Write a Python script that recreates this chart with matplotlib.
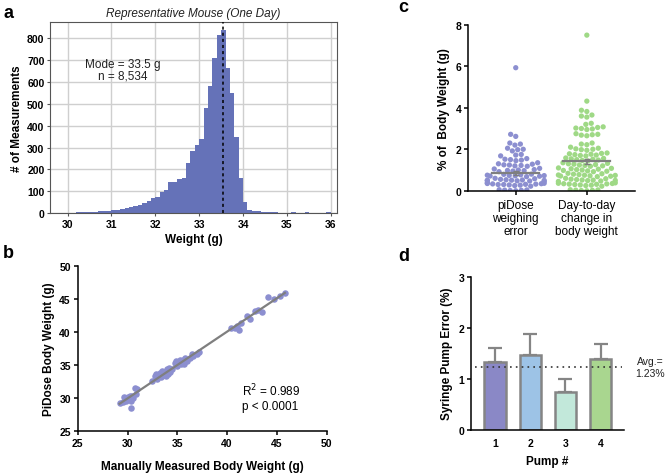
import warnings
import matplotlib
matplotlib.use("Agg")
import matplotlib.pyplot as plt
import numpy as np
import pandas as pd
import seaborn as sns

warnings.filterwarnings("ignore")
plt.rcParams["font.family"] = ["Liberation Sans", "DejaVu Sans"]

# ---- panel a: histogram of weights (bin counts, 0.1 g bins from 30 to 36)
bin_edges = np.round(np.arange(30.0, 36.01, 0.1), 2)
bin_counts = [0, 3, 4, 4, 4, 7, 7, 8, 8, 12,
              15, 16, 17, 22, 26, 35, 37, 45, 57, 68,
              72, 98, 108, 142, 144, 156, 160, 230, 283, 313,
              340, 479, 583, 708, 814, 838, 662, 552, 348, 162,
              50, 14, 10, 8, 7, 5, 6, 4, 3, 3,
              2, 7, 3, 1, 4, 0, 0, 1, 3, 7]
mode_weight = 33.55

# ---- panel b: manual vs piDose weights
manual_w = [29.2, 29.5, 29.6, 29.8, 30.0, 30.1, 30.2, 30.3, 30.4, 30.5,
            30.6, 30.8, 31.0, 30.9, 32.5, 32.8, 32.9, 33.0, 33.2, 33.3,
            33.4, 33.5, 33.6, 33.8, 33.9, 34.0, 34.1, 34.2, 34.3, 34.5,
            34.8, 34.9, 35.0, 35.2, 35.3, 35.4, 35.6, 35.8, 35.7, 36.0,
            36.3, 36.5, 36.6, 37.0, 37.2, 40.4, 40.8, 41.0, 41.2, 41.4,
            42.0, 42.3, 42.8, 43.1, 43.5, 44.1, 44.7, 45.3, 45.8]
pidose_w = [29.3, 29.4, 30.1, 29.6, 30.2, 29.9, 30.3, 28.5, 29.6, 30.3,
            30.0, 31.5, 31.3, 30.6, 32.5, 33.3, 33.6, 32.9, 33.4, 33.8,
            33.1, 34.0, 33.5, 33.9, 33.3, 34.3, 33.6, 34.5, 33.9, 34.3,
            35.3, 35.6, 34.9, 35.4, 35.8, 35.2, 35.7, 36.0, 35.1, 35.6,
            36.0, 36.7, 36.3, 36.6, 36.9, 40.5, 40.6, 40.9, 40.2, 41.4,
            42.4, 42.0, 43.1, 43.3, 43.0, 45.2, 45.0, 45.4, 45.8]

# ---- panel c: % of body weight
weigh_err = [0.0, 0.02, 0.03, 0.05, 0.04, 0.01,
             0.22, 0.25, 0.28, 0.3, 0.3, 0.32, 0.33, 0.35, 0.36, 0.27, 0.31, 0.34, 0.38,
             0.45, 0.48, 0.5, 0.5, 0.52, 0.53, 0.55, 0.47, 0.58, 0.6, 0.49, 0.51,
             0.68, 0.7, 0.72, 0.74, 0.75, 0.77, 0.79, 0.8, 0.73, 0.71,
             0.92, 0.95, 0.98, 1.0, 1.02, 1.05, 0.97, 1.08,
             1.18, 1.2, 1.22, 1.25, 1.28, 1.3, 1.24, 1.35,
             1.45, 1.48, 1.5, 1.52, 1.55,
             1.68, 1.72, 1.75, 1.92, 1.98, 2.0, 2.05,
             2.2, 2.25, 2.3, 2.62, 2.72, 5.93]
day_change = [0.0, 0.01, 0.02, 0.03, 0.04, 0.05,
              0.22, 0.25, 0.27, 0.28, 0.3, 0.31, 0.32, 0.33, 0.34, 0.35, 0.36, 0.38,
              0.45, 0.47, 0.49, 0.5, 0.51, 0.52, 0.54, 0.56, 0.58, 0.6,
              0.68, 0.7, 0.71, 0.72, 0.74, 0.75, 0.76, 0.78, 0.8, 0.82, 0.84,
              0.92, 0.94, 0.96, 0.98, 1.0, 1.02, 1.04, 1.06, 1.08, 1.1,
              1.18, 1.2, 1.22, 1.24, 1.26, 1.28, 1.3, 1.32, 1.35,
              1.44, 1.46, 1.48, 1.5, 1.52, 1.54, 1.56, 1.58,
              1.68, 1.7, 1.72, 1.74, 1.76, 1.78, 1.8, 1.82,
              1.95, 1.98, 2.0, 2.02, 2.05, 2.1,
              2.22, 2.25, 2.3,
              2.65, 2.68, 2.7, 2.72, 2.75,
              2.95, 2.98, 3.0, 3.02, 3.05, 3.08,
              3.2, 3.25, 3.55, 3.6, 3.65, 3.82, 3.88, 4.32, 7.5]
c_means = [0.85, 1.42]
c_sems = [0.09, 0.11]
c_labels = ["piDose\nweighing\nerror", "Day-to-day\nchange in\nbody weight"]

# ---- panel d: syringe pump error
pumps = ["1", "2", "3", "4"]
pump_err = [1.33, 1.46, 0.74, 1.38]
pump_sd = [0.27, 0.41, 0.25, 0.29]
pump_avg = 1.23
pump_colors = ["#8a88c6", "#9dc3e6", "#c2e8da", "#a9d68f"]

fig = plt.figure(figsize=(6.7, 4.77), dpi=100)
bold = dict(fontweight="bold")

# ================= a
ax = fig.add_axes([0.0746, 0.551, 0.4284, 0.401])
ax.bar(bin_edges[:-1], bin_counts, width=0.1, align="edge", color="#6572b8",
       linewidth=0, zorder=2)
ax.set_xlim(29.6, 36.14)
ax.set_ylim(0, 875)
ax.set_xticks(range(30, 37))
ax.set_yticks(range(0, 801, 100))
ax.grid(True, color="#cfcfcf", linewidth=1, zorder=0)
ax.set_axisbelow(True)
for s in ax.spines.values():
    s.set_color("#555555")
ax.tick_params(length=2, color="#555555", labelsize=7.5, pad=2)
for lab in ax.get_xticklabels() + ax.get_yticklabels():
    lab.set_fontweight("bold")
ax.axvline(mode_weight, color="black", linestyle=(0, (2, 2)), linewidth=1.1, zorder=3)
ax.text(31.25, 655, "Mode = 33.5 g\nn = 8,534", ha="center", va="center",
        fontsize=8.5, linespacing=1.0, color="#222222")
ax.set_title("Representative Mouse (One Day)", fontsize=8.5, style="italic", pad=4,
             color="#222222")
ax.set_xlabel("Weight (g)", fontsize=8.5, labelpad=3, **bold)
ax.set_ylabel("# of Measurements", fontsize=8.5, labelpad=3, **bold)

# ================= b
ax = fig.add_axes([0.116, 0.0943, 0.3716, 0.3467])
ax.scatter(manual_w, pidose_w, s=22, color="#8c8fd0", linewidth=0, zorder=2)
slope, icpt = np.polyfit(manual_w, pidose_w, 1)
xl = np.array([min(manual_w), max(manual_w)])
ax.plot(xl, slope * xl + icpt, color="#7f7f7f", linewidth=1.6, zorder=3)
ax.set_xlim(25, 50)
ax.set_ylim(25, 50)
ax.set_xticks(range(25, 51, 5))
ax.set_yticks(range(25, 51, 5))
for s in ["top", "right"]:
    ax.spines[s].set_visible(False)
for s in ["left", "bottom"]:
    ax.spines[s].set_linewidth(1.1)
ax.tick_params(length=3, width=1.1, labelsize=7.5, pad=2)
for lab in ax.get_xticklabels() + ax.get_yticklabels():
    lab.set_fontweight("bold")
ax.text(41.5, 30.2, "R$^2$ = 0.989\np < 0.0001", ha="left", va="center", fontsize=8.5)
ax.set_xlabel("Manually Measured Body Weight (g)", fontsize=8.5, labelpad=9, **bold)
ax.set_ylabel("PiDose Body Weight (g)", fontsize=8.5, labelpad=3, **bold)

# ================= c
ax = fig.add_axes([0.699, 0.598, 0.249, 0.348])
df = pd.DataFrame({
    "grp": [0] * len(weigh_err) + [1] * len(day_change),
    "val": weigh_err + day_change,
})
sns.swarmplot(data=df, x="grp", y="val", hue="grp", palette=["#8c8fd0", "#9fd986"],
              size=3.8, linewidth=0, ax=ax, legend=False, native_scale=True, zorder=2)
for i, (m, e) in enumerate(zip(c_means, c_sems)):
    ax.plot([i - 0.33, i + 0.33], [m, m], color="#7f7f7f", linewidth=1.6, zorder=3)
    ax.errorbar(i, m, yerr=e, color="#7f7f7f", linewidth=1.2, capsize=2, zorder=3)
ax.set_xlim(-0.667, 1.68)
ax.set_ylim(0, 8)
ax.set_yticks([0, 2, 4, 6, 8])
ax.set_xticks([0, 1])
ax.set_xticklabels(c_labels, fontsize=8.5, linespacing=1.1)
for s in ["top", "right"]:
    ax.spines[s].set_visible(False)
for s in ["left", "bottom"]:
    ax.spines[s].set_linewidth(1.1)
ax.tick_params(axis="y", length=3, width=1.1, labelsize=7.5, pad=2)
ax.tick_params(axis="x", length=3, width=1.1, pad=3)
for lab in ax.get_yticklabels():
    lab.set_fontweight("bold")
ax.set_xlabel("")
ax.set_ylabel("% of  Body Weight (g)", fontsize=8.5, labelpad=4, **bold)

# ================= d
ax = fig.add_axes([0.703, 0.097, 0.228, 0.321])
xpos = np.arange(1, len(pumps) + 1)
ax.bar(xpos, pump_err, width=0.6, color=pump_colors, edgecolor="#858585",
       linewidth=1.8, zorder=2)
ax.errorbar(xpos, pump_err, yerr=[np.zeros(len(pumps)), pump_sd], fmt="none",
            ecolor="#858585", elinewidth=1.6, capsize=5, capthick=1.6, zorder=1)
ax.plot([0.43, 4.6], [pump_avg, pump_avg], color="#333333", linestyle=(0, (1, 2.5)),
        linewidth=1.2, zorder=3, clip_on=False)
ax.text(5.4, pump_avg, "Avg.=\n%.2f%%" % pump_avg, ha="center", va="center",
        fontsize=7.5, linespacing=1.15, clip_on=False, color="#222222")
ax.set_xlim(0.32, 4.66)
ax.set_ylim(0, 3)
ax.set_xticks(xpos)
ax.set_xticklabels(pumps)
ax.set_yticks([0, 1, 2, 3])
for s in ["top", "right"]:
    ax.spines[s].set_visible(False)
for s in ["left", "bottom"]:
    ax.spines[s].set_linewidth(1.1)
ax.tick_params(axis="y", length=3, width=1.1, labelsize=7.5, pad=2)
ax.tick_params(axis="x", length=0, labelsize=7.5, pad=6)
for lab in ax.get_xticklabels() + ax.get_yticklabels():
    lab.set_fontweight("bold")
ax.set_xlabel("Pump #", fontsize=8.5, labelpad=5, **bold)
ax.set_ylabel("Syringe Pump Error (%)", fontsize=8.5, labelpad=4, **bold)

# panel letters
for letter, (px, py) in {"a": (3, 14), "b": (3, 253), "c": (398, 8), "d": (398, 257)}.items():
    fig.text(px / 670, 1 - py / 477, letter, fontsize=13, fontweight="bold",
             va="center", ha="left")

fig.savefig("out.png", dpi=100)
